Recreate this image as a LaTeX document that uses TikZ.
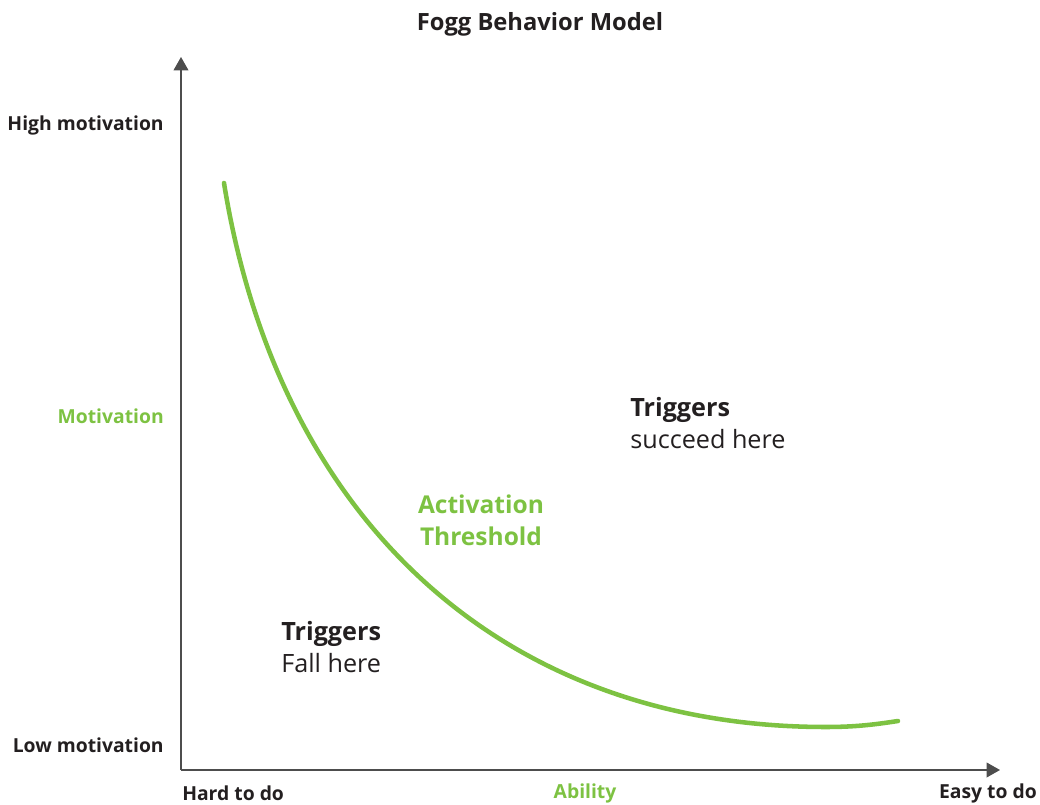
\documentclass[tikz,border=0pt]{standalone}
\usepackage{fontspec}
\setmainfont{Open Sans}
\usepackage{xcolor}
\usepackage{tikz}
\usetikzlibrary{arrows.meta, positioning}
\definecolor{fbmgreen}{HTML}{7DC242}
\definecolor{fbmtext}{HTML}{231F20}
\definecolor{fbmaxis}{HTML}{4D4D4D}
\tikzstyle{title} = [font=\fontsize{17.8}{21}\selectfont\bfseries, text=fbmtext, inner sep=0pt]
\tikzstyle{axislabel} = [font=\fontsize{14.5}{17}\selectfont\bfseries, text=fbmtext, inner sep=0pt]
\tikzstyle{axisname} = [axislabel, text=fbmgreen]
\tikzstyle{zonetext} = [font=\fontsize{18.9}{24}\selectfont, text=fbmtext, align=left, inner sep=0pt]
\tikzstyle{threshtext} = [font=\fontsize{18.4}{24}\selectfont\bfseries, text=fbmgreen, align=center, inner sep=0pt]
\tikzstyle{axis} = [draw=fbmaxis, line width=1.2pt, -{Triangle[length=10pt, width=11pt]}]
\tikzstyle{curve} = [draw=fbmgreen, line width=3.4pt, line cap=round]

\begin{document}
\begin{tikzpicture}[x=0.75pt, y=-0.75pt]
    \useasboundingbox (0,0) rectangle (1040,805);

    % axes
    \coordinate (origin) at (181,770);
    \coordinate (ytop) at (181,57);
    \coordinate (xend) at (1000,770);
    \draw [axis] (origin) -- (ytop);
    \draw [axis] (origin) -- (xend);

    % activation threshold
    \coordinate (hardend) at (224,183);
    \coordinate (low) at (826,727);
    \coordinate (easyend) at (898,721);
    \draw [curve] (hardend) .. controls (277,513) and (496,727) .. (low)
                  .. controls (858,727) and (878,724) .. (easyend);

    \node (title) [title] at (540,24) {Fogg Behavior Model};

    \node (high) [axislabel, anchor=east] at (164,125) {High motivation};
    \node (motiv) [axisname, anchor=east] at (164,416) {Motivation};
    \node (lowm) [axislabel, anchor=east] at (164,745) {Low motivation};
    \node (hard) [axislabel, anchor=west] at (182,793) {Hard to do};
    \node (ability) [axisname] at (585,793) {Ability};
    \node (easy) [axislabel, anchor=east] at (1037,793) {Easy to do};

    \node (succeed) [zonetext, anchor=north west] at (630,397) {\textbf{Triggers}\\succeed here};
    \node (thresh) [threshtext] at (481,520) {Activation\\Threshold};
    \node (fall) [zonetext, anchor=north west] at (281,621) {\textbf{Triggers}\\Fall here};
\end{tikzpicture}
\end{document}
